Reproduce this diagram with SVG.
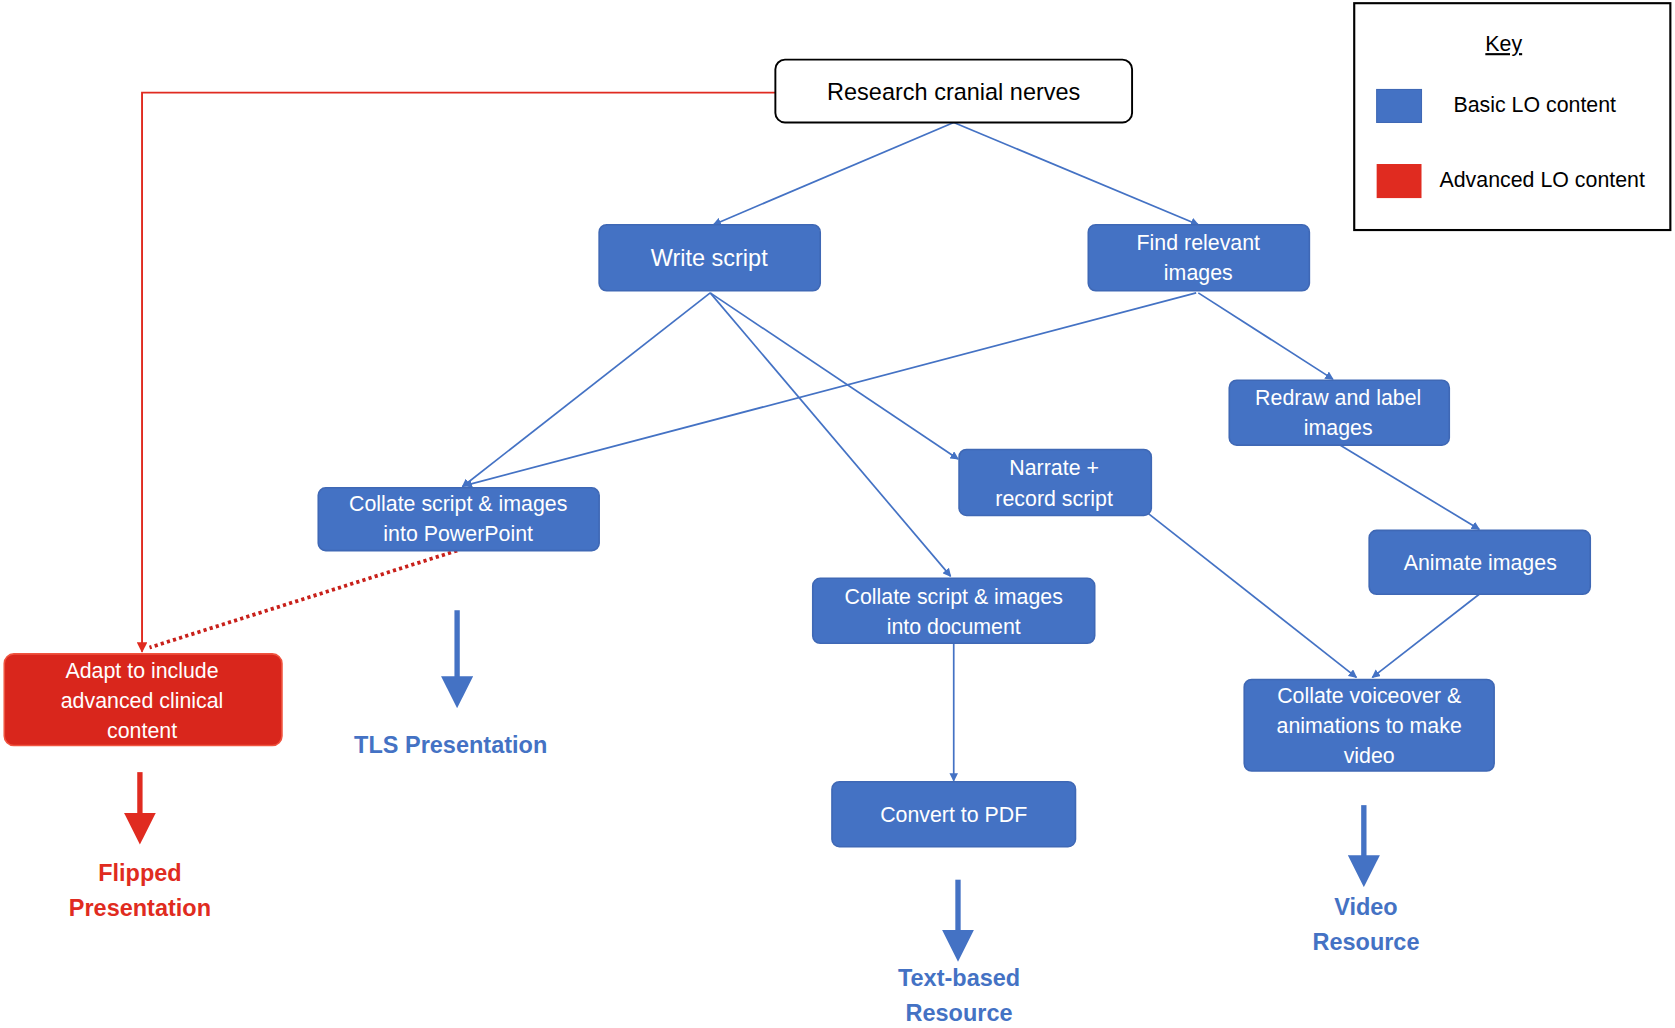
<svg xmlns="http://www.w3.org/2000/svg" width="1675" height="1028" viewBox="0 0 1675 1028">
<style>
.b{fill:#4472C4;stroke:#3F68B5;stroke-width:1.5}
.t{font-family:"Liberation Sans",Arial,sans-serif;font-size:20px;fill:#fff;text-anchor:middle}
.e{stroke:#4472C4;stroke-width:1.6;fill:none;marker-end:url(#ah)}
.big{stroke:#4472C4;stroke-width:5;marker-end:url(#bh)}
.lb{font-family:"Liberation Sans",Arial,sans-serif;font-size:22px;font-weight:bold;fill:#4472C4;text-anchor:middle}
</style>
<defs>
<marker id="ah" markerWidth="8" markerHeight="8" refX="7" refY="4" orient="auto" markerUnits="userSpaceOnUse"><path d="M0,0L8,4L0,8z" fill="#4472C4"/></marker>
<marker id="ar" markerWidth="10" markerHeight="10" refX="9" refY="5" orient="auto" markerUnits="userSpaceOnUse"><path d="M0,0L10,5L0,10z" fill="#E02B20"/></marker>
<marker id="bh" markerWidth="6" markerHeight="6" refX="1" refY="3" orient="auto"><path d="M0,0L6,3L0,6z" fill="#4472C4"/></marker>
<marker id="rh" markerWidth="6" markerHeight="6" refX="1" refY="3" orient="auto"><path d="M0,0L6,3L0,6z" fill="#E02B20"/></marker>
</defs>
<rect width="1675" height="1028" fill="#fff"/>
<g transform="scale(1.068,1.065)">
<g id="connectors">
<path class="e" d="M893,115L668,211"/>
<path class="e" d="M893,115L1122,211"/>
<path class="e" d="M665,275L433,457"/>
<path class="e" d="M665,275L890,541"/>
<path class="e" d="M665,275L897,431"/>
<path class="e" d="M1120,275L435,456"/>
<path class="e" d="M1122,275L1248,356"/>
<path class="e" d="M1255,418L1385,497"/>
<path class="e" d="M1075,482L1270,636"/>
<path class="e" d="M1385,558L1285,636"/>
<path class="e" d="M893,604L893,733"/>
<path d="M726,87H133V612" stroke="#E02B20" stroke-width="1.8" fill="none" marker-end="url(#ar)"/>
<path d="M428,517L140,608" stroke="#C8201A" stroke-width="3.5" stroke-dasharray="3,3" fill="none"/>
<path class="big" d="M428,573V640"/>
<path d="M131,725V768" stroke="#E02B20" stroke-width="5" marker-end="url(#rh)"/>
<path class="big" d="M897,826V878"/>
<path class="big" d="M1277,756V808"/>
</g>
<g id="research"><rect x="726" y="56" width="334" height="59" rx="9" fill="#fff" stroke="#000" stroke-width="1.8"/><text class="t" x="893" y="94" style="fill:#000;font-size:22px">Research cranial nerves</text></g>
<g id="write"><rect class="b" x="561" y="211" width="207" height="62" rx="7"/><text class="t" x="664" y="250" style="font-size:22px">Write script</text></g>
<g id="find"><rect class="b" x="1019" y="211" width="207" height="62" rx="7"/><text class="t" x="1122" y="235">Find relevant</text><text class="t" x="1122" y="263">images</text></g>
<g id="redraw"><rect class="b" x="1151" y="357" width="206" height="61" rx="7"/><text class="t" x="1253" y="380">Redraw and label</text><text class="t" x="1253" y="408">images</text></g>
<g id="narrate"><rect class="b" x="898" y="422" width="180" height="62" rx="7"/><text class="t" x="987" y="446">Narrate +</text><text class="t" x="987" y="475">record script</text></g>
<g id="ppt"><rect class="b" x="298" y="458" width="263" height="59" rx="7"/><text class="t" x="429" y="480">Collate script &amp; images</text><text class="t" x="429" y="508">into PowerPoint</text></g>
<g id="animate"><rect class="b" x="1282" y="498" width="207" height="60" rx="7"/><text class="t" x="1386" y="535">Animate images</text></g>
<g id="doc"><rect class="b" x="761" y="543" width="264" height="61" rx="7"/><text class="t" x="893" y="567">Collate script &amp; images</text><text class="t" x="893" y="595">into document</text></g>
<g id="video"><rect class="b" x="1165" y="638" width="234" height="86" rx="7"/><text class="t" x="1282" y="660">Collate voiceover &amp;</text><text class="t" x="1282" y="688">animations to make</text><text class="t" x="1282" y="716">video</text></g>
<g id="pdf"><rect class="b" x="779" y="734" width="228" height="61" rx="7"/><text class="t" x="893" y="772">Convert to PDF</text></g>
<g id="adapt"><rect x="4" y="614" width="260" height="86" rx="9" fill="#D9261C" stroke="#F0533F" stroke-width="1.5"/><text class="t" x="133" y="637">Adapt to include</text><text class="t" x="133" y="665">advanced clinical</text><text class="t" x="133" y="693">content</text></g>
<g id="labels">
<text class="lb" x="422" y="707">TLS Presentation</text>
<text class="lb" x="131" y="827" style="fill:#E02B20">Flipped</text><text class="lb" x="131" y="860" style="fill:#E02B20">Presentation</text>
<text class="lb" x="898" y="926">Text-based</text><text class="lb" x="898" y="959">Resource</text>
<text class="lb" x="1279" y="859">Video</text><text class="lb" x="1279" y="892">Resource</text>
</g>
<g id="key"><rect x="1268" y="3" width="296" height="213" fill="#fff" stroke="#000" stroke-width="2"/>
<text x="1408" y="48" style="font-family:'Liberation Sans',Arial,sans-serif;font-size:20px;text-anchor:middle;text-decoration:underline">Key</text>
<rect x="1289" y="84" width="42" height="31" fill="#4472C4" stroke="#3F68B5"/><text x="1437" y="105" style="font-family:'Liberation Sans',Arial,sans-serif;font-size:20px;text-anchor:middle">Basic LO content</text>
<rect x="1289" y="154" width="42" height="32" fill="#E02B20"/><text x="1444" y="176" style="font-family:'Liberation Sans',Arial,sans-serif;font-size:20px;text-anchor:middle">Advanced LO content</text></g>
</g>
</svg>
